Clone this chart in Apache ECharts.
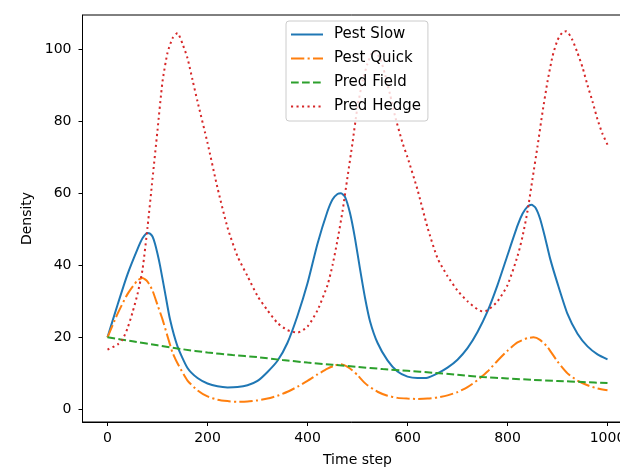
<!DOCTYPE html>
<html>
<head>
<meta charset="utf-8">
<script src="https://cdn.jsdelivr.net/npm/echarts@6/dist/echarts.min.js"></script>
<style>
html,body{margin:0;padding:0;background:#fff;}
#chart{width:620px;height:468px;}
</style>
</head>
<body>
<div id="chart"></div>
<script>
const xTicks = [0, 200, 400, 600, 800, 1000];
const yTicks = [0, 20, 40, 60, 80, 100];

const seriesNames = ['Pest Slow', 'Pest Quick', 'Pred Field', 'Pred Hedge'];

const slowT = [0,20,40,60,70,80,85,90,95,100,105,115,125,140,160,180,200,220,240,260,280,300,320,340,360,380,400,420,440,450,460,467,475,485,495,505,515,525,540,560,580,600,620,640,660,680,700,720,740,760,780,800,820,830,840,848,856,865,875,885,900,920,940,960,980,1000];
const slowV = [20,29,37.5,44.5,47.5,49,48.8,48,46,43.2,40,32.5,25,17.5,11.5,8.7,7.2,6.4,6.1,6.2,6.7,7.9,10.4,13.5,18.5,26,35,46,55,58.3,59.8,60,59,54.5,47.5,39,31,24.5,18.5,13.6,10.5,9.1,8.7,8.8,10,11.6,13.8,17,21.5,27.2,34.5,42.8,51,54.3,56.3,56.8,56,53,47.8,42,35,26.5,21,17.5,15.3,13.9];

const quickT = [0,20,40,60,70,80,90,100,110,120,130,140,160,180,200,220,240,260,280,300,320,340,360,380,400,420,440,455,467,480,490,500,510,520,540,560,580,600,620,640,660,680,700,720,740,760,780,800,820,840,852,865,880,900,920,940,960,980,1000];
const quickV = [20,26.5,32,35.8,36.5,35.5,33,29,25,20.3,15.8,12.8,8,5.3,3.6,2.7,2.3,2.1,2.2,2.5,3.0,3.8,4.9,6.3,7.9,9.7,11.3,12.2,12.5,11.8,10.8,9.5,8,6.7,4.9,3.8,3.2,3.0,2.9,3.0,3.3,3.9,4.8,6.2,8.1,10.5,13.5,16.3,18.6,19.8,20,19.3,17.3,13.3,10,8,6.7,5.8,5.3];

const fieldT = [0,50,100,150,200,250,300,350,400,450,500,550,600,650,700,750,800,850,900,950,1000];
const fieldV = [20,18.9,17.8,16.7,15.8,15.1,14.5,13.7,13.0,12.4,11.8,11.2,10.7,10.2,9.6,9.0,8.6,8.2,7.9,7.6,7.3];

const hedgeT = [0,20,30,40,50,60,70,80,90,100,110,120,130,140,150,160,170,180,200,220,240,260,280,300,320,340,360,380,400,420,440,450,460,470,480,490,500,510,520,532,545,555,565,575,590,600,620,640,660,680,700,720,740,750,760,780,800,820,830,840,850,860,870,880,890,900,910,918,930,940,950,960,970,980,990,1000];
const hedgeV = [16.6,18,19.4,22.5,26.9,32,38.8,50.5,64,77.5,91,99,103,104.5,101.5,97.5,91.5,85.5,74,61.5,50.5,42.5,37,31.5,27.5,24,22,21.3,23,27.5,34.5,40,47,55,64.5,74,84,91,96,99.5,97.5,93,87.5,81.5,74,70,61,50.5,42,37,33,30,27.8,27.2,27.5,30,34.5,42.5,48,55,64,73,82.5,91,98,102.5,104.7,105,102.5,99,95,90,85.5,80.5,76.5,73.5];

function pairs(t, v) { return t.map((x, i) => [x, v[i]]); }

const FONT = 'DejaVu Sans';
const chart = echarts.init(document.getElementById('chart'), null, {renderer: 'canvas'});

function lineSeries(name, t, v, color, dash) {
  return {
    name: name,
    type: 'line',
    data: pairs(t, v),
    showSymbol: false,
    symbol: 'none',
    smooth: 0.2,
    lineStyle: {color: color, width: 2, type: dash, cap: 'butt'},
    itemStyle: {color: color},
    emphasis: {disabled: true}
  };
}

chart.setOption({
  animation: false,
  backgroundColor: '#fff',
  textStyle: {fontFamily: FONT},
  grid: {
    left: 82.5, top: 15, width: 550, bottom: 46,
    containLabel: false, outerBoundsMode: 'none',
    show: true, borderColor: '#000', borderWidth: 1, backgroundColor: 'transparent'
  },
  legend: {
    data: seriesNames,
    orient: 'vertical',
    left: 286, top: 21,
    padding: [6, 7, 7, 4],
    itemWidth: 32, itemHeight: 14, itemGap: 9,
    itemStyle: {opacity: 0},
    backgroundColor: 'rgba(255,255,255,0.8)',
    borderColor: '#cccccc', borderWidth: 1, borderRadius: 3,
    textStyle: {fontFamily: FONT, fontSize: 15, color: '#000', lineHeight: 14, padding: [0, 0, 0, 6]}
  },
  xAxis: {
    type: 'value', min: -50, max: 1050,
    name: 'Time step', nameLocation: 'middle', nameGap: 31,
    nameTextStyle: {fontFamily: FONT, fontSize: 14, color: '#000'},
    axisLine: {show: true, onZero: false, lineStyle: {color: '#000', width: 1}},
    axisTick: {show: true, inside: false, length: 4, customValues: xTicks, lineStyle: {color: '#000', width: 1}},
    axisLabel: {customValues: xTicks, margin: 9, fontFamily: FONT, fontSize: 14, color: '#000', formatter: v => String(v)},
    splitLine: {show: false}
  },
  yAxis: {
    type: 'value', min: -3.5, max: 109.5,
    name: 'Density', nameLocation: 'middle', nameGap: 44,
    nameTextStyle: {fontFamily: FONT, fontSize: 14, color: '#000'},
    axisLine: {show: true, onZero: false, lineStyle: {color: '#000', width: 1}},
    axisTick: {show: true, inside: false, length: 4, customValues: yTicks, lineStyle: {color: '#000', width: 1}},
    axisLabel: {customValues: yTicks, margin: 11, fontFamily: FONT, fontSize: 14, color: '#000', formatter: v => String(v)},
    splitLine: {show: false}
  },
  series: [
    lineSeries(seriesNames[0], slowT, slowV, '#1f77b4', 'solid'),
    lineSeries(seriesNames[1], quickT, quickV, '#ff7f0e', [13.3, 3.3, 2.1, 3.3]),
    lineSeries(seriesNames[2], fieldT, fieldV, '#2ca02c', [7.7, 3.3]),
    lineSeries(seriesNames[3], hedgeT, hedgeV, '#d62728', [2.1, 3.4])
  ]
});
</script>
</body>
</html>
